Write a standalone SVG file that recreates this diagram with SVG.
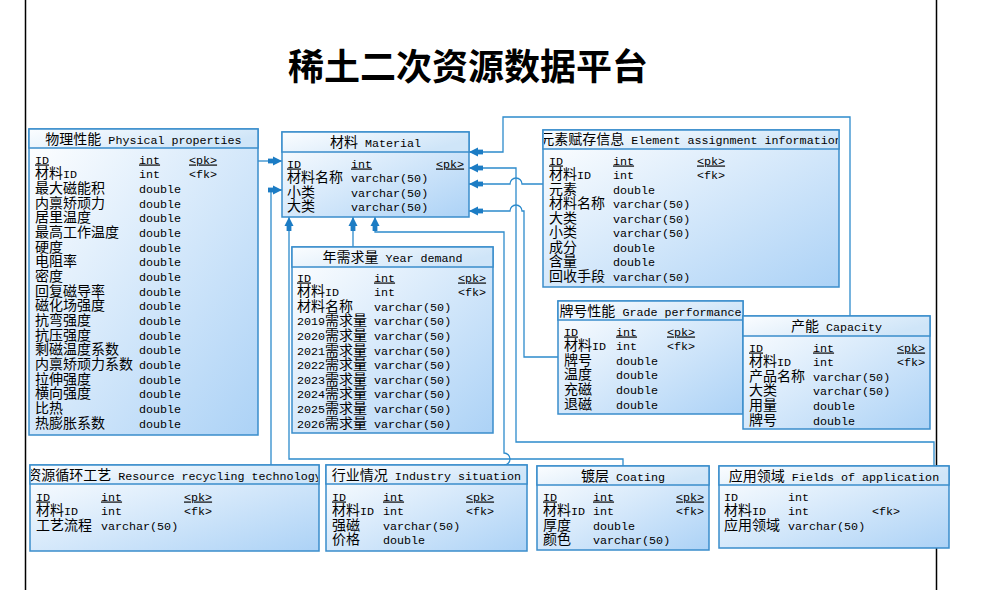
<svg xmlns="http://www.w3.org/2000/svg" width="981" height="590" viewBox="0 0 981 590">
<style>
.bg{fill:#ffffff}
.page{stroke:#000;stroke-width:1.5;fill:none}
.title{font-family:"Noto Sans CJK SC","Liberation Sans",sans-serif;font-size:36px;font-weight:bold;fill:#000}
.box{fill:url(#gb);stroke:#3a8dcb;stroke-width:1.5}
.hd{fill:url(#gh);stroke:#3a8dcb;stroke-width:1.5}
.t{font-family:"Liberation Mono","Noto Sans CJK SC",monospace;font-size:11.7px;fill:#000}
.c{font-family:"Noto Sans CJK SC",sans-serif;font-size:14px}
.u{text-decoration:underline}
.m{text-anchor:middle}
.cn{fill:none;stroke:#2d8bcc;stroke-width:1.3}
</style>
<defs>
<linearGradient id="gb" x1="0" y1="0" x2="1" y2="1">
<stop offset="0" stop-color="#ffffff"/>
<stop offset="1" stop-color="#acd2f6"/>
</linearGradient>
<linearGradient id="gh" x1="0" y1="0" x2="1" y2="0.4">
<stop offset="0" stop-color="#fbfdff"/>
<stop offset="1" stop-color="#cfe5f8"/>
</linearGradient>
<marker id="ar" markerUnits="userSpaceOnUse" markerWidth="20" markerHeight="12" refX="16" refY="6" orient="auto" viewBox="0 0 20 12">
<polygon points="16,6 7,1.5 7,10.5" fill="#1c7cc4"/>
<rect x="2" y="3.6" width="6" height="4.8" fill="#1c7cc4"/>
</marker>
<clipPath id="clipEl"><rect x="544" y="131" width="294" height="18"/></clipPath>
<clipPath id="clipRes"><rect x="31" y="466" width="287" height="18"/></clipPath>
</defs>
<rect class="bg" x="0" y="0" width="981" height="590"/>
<line class="page" x1="25.5" y1="0" x2="25.5" y2="590"/>
<line class="page" x1="936.5" y1="0" x2="936.5" y2="590"/>
<text class="title m" x="468" y="80">稀土二次资源数据平台</text>

<g id="connectors">
<path class="cn" d="M258,161 H282" marker-end="url(#ar)"/>
<path class="cn" d="M271,465 V190 H282" marker-end="url(#ar)"/>
<path class="cn" d="M623,466 V459 H289 V217" marker-end="url(#ar)"/>
<path class="cn" d="M353,247 V217" marker-end="url(#ar)"/>
<path class="cn" d="M504,465 A6,6 0 0 0 504,453 V232 H375 V217" marker-end="url(#ar)"/>
<path class="cn" d="M850,316 V117 H503 V152 H469" marker-end="url(#ar)"/>
<path class="cn" d="M934,466 V442 H516 V168 H469" marker-end="url(#ar)"/>
<path class="cn" d="M543,184 H522 A6,6 0 0 0 510,184 H469" marker-end="url(#ar)"/>
<path class="cn" d="M558,357 H524 V211 H522 A6,6 0 0 0 510,211 H469" marker-end="url(#ar)"/>
</g>

<g id="physical">
<rect class="box" x="29" y="129" width="229" height="306"/>
<rect class="hd" x="29" y="129" width="229" height="19"/>
<text class="t m" x="143.5" y="143.5"><tspan class="c">物理性能</tspan> Physical properties</text>
<text class="t u" x="35" y="163.5">ID</text><text class="t u" x="139" y="163.5">int</text><text class="t u" x="189" y="163.5">&lt;pk&gt;</text>
<text class="t" x="35" y="178.2"><tspan class="c">材料</tspan>ID</text><text class="t" x="139" y="178.2">int</text><text class="t" x="189" y="178.2">&lt;fk&gt;</text>
<text class="t" x="35" y="192.8"><tspan class="c">最大磁能积</tspan></text><text class="t" x="139" y="192.8">double</text>
<text class="t" x="35" y="207.5"><tspan class="c">内禀矫顽力</tspan></text><text class="t" x="139" y="207.5">double</text>
<text class="t" x="35" y="222.2"><tspan class="c">居里温度</tspan></text><text class="t" x="139" y="222.2">double</text>
<text class="t" x="35" y="236.8"><tspan class="c">最高工作温度</tspan></text><text class="t" x="139" y="236.8">double</text>
<text class="t" x="35" y="251.5"><tspan class="c">硬度</tspan></text><text class="t" x="139" y="251.5">double</text>
<text class="t" x="35" y="266.2"><tspan class="c">电阻率</tspan></text><text class="t" x="139" y="266.2">double</text>
<text class="t" x="35" y="280.9"><tspan class="c">密度</tspan></text><text class="t" x="139" y="280.9">double</text>
<text class="t" x="35" y="295.5"><tspan class="c">回复磁导率</tspan></text><text class="t" x="139" y="295.5">double</text>
<text class="t" x="35" y="310.2"><tspan class="c">磁化场强度</tspan></text><text class="t" x="139" y="310.2">double</text>
<text class="t" x="35" y="324.9"><tspan class="c">抗弯强度</tspan></text><text class="t" x="139" y="324.9">double</text>
<text class="t" x="35" y="339.5"><tspan class="c">抗压强度</tspan></text><text class="t" x="139" y="339.5">double</text>
<text class="t" x="35" y="354.2"><tspan class="c">剩磁温度系数</tspan></text><text class="t" x="139" y="354.2">double</text>
<text class="t" x="35" y="368.9"><tspan class="c">内禀矫顽力系数</tspan></text><text class="t" x="139" y="368.9">double</text>
<text class="t" x="35" y="383.5"><tspan class="c">拉伸强度</tspan></text><text class="t" x="139" y="383.5">double</text>
<text class="t" x="35" y="398.2"><tspan class="c">横向强度</tspan></text><text class="t" x="139" y="398.2">double</text>
<text class="t" x="35" y="412.9"><tspan class="c">比热</tspan></text><text class="t" x="139" y="412.9">double</text>
<text class="t" x="35" y="427.5"><tspan class="c">热膨胀系数</tspan></text><text class="t" x="139" y="427.5">double</text>
</g>

<g id="material">
<rect class="box" x="282" y="132" width="187" height="85"/>
<rect class="hd" x="282" y="132" width="187" height="20"/>
<text class="t m" x="375.5" y="146.5"><tspan class="c">材料</tspan> Material</text>
<text class="t u" x="287" y="167.5">ID</text><text class="t u" x="351" y="167.5">int</text><text class="t u" x="436" y="167.5">&lt;pk&gt;</text>
<text class="t" x="287" y="182"><tspan class="c">材料名称</tspan></text><text class="t" x="351" y="182">varchar(50)</text>
<text class="t" x="287" y="196.5"><tspan class="c">小类</tspan></text><text class="t" x="351" y="196.5">varchar(50)</text>
<text class="t" x="287" y="211"><tspan class="c">大类</tspan></text><text class="t" x="351" y="211">varchar(50)</text>
</g>

<g id="year-demand">
<rect class="box" x="292" y="247" width="201" height="186"/>
<rect class="hd" x="292" y="247" width="201" height="20"/>
<text class="t m" x="392.5" y="261.5"><tspan class="c">年需求量</tspan> Year demand</text>
<text class="t u" x="297" y="281.5">ID</text><text class="t u" x="374" y="281.5">int</text><text class="t u" x="458" y="281.5">&lt;pk&gt;</text>
<text class="t" x="297" y="296.1"><tspan class="c">材料</tspan>ID</text><text class="t" x="374" y="296.1">int</text><text class="t" x="458" y="296.1">&lt;fk&gt;</text>
<text class="t" x="297" y="310.7"><tspan class="c">材料名称</tspan></text><text class="t" x="374" y="310.7">varchar(50)</text>
<text class="t" x="297" y="325.3">2019<tspan class="c">需求量</tspan></text><text class="t" x="374" y="325.3">varchar(50)</text>
<text class="t" x="297" y="339.9">2020<tspan class="c">需求量</tspan></text><text class="t" x="374" y="339.9">varchar(50)</text>
<text class="t" x="297" y="354.5">2021<tspan class="c">需求量</tspan></text><text class="t" x="374" y="354.5">varchar(50)</text>
<text class="t" x="297" y="369.1">2022<tspan class="c">需求量</tspan></text><text class="t" x="374" y="369.1">varchar(50)</text>
<text class="t" x="297" y="383.7">2023<tspan class="c">需求量</tspan></text><text class="t" x="374" y="383.7">varchar(50)</text>
<text class="t" x="297" y="398.3">2024<tspan class="c">需求量</tspan></text><text class="t" x="374" y="398.3">varchar(50)</text>
<text class="t" x="297" y="412.9">2025<tspan class="c">需求量</tspan></text><text class="t" x="374" y="412.9">varchar(50)</text>
<text class="t" x="297" y="427.5">2026<tspan class="c">需求量</tspan></text><text class="t" x="374" y="427.5">varchar(50)</text>
</g>

<g id="element">
<rect class="box" x="543" y="130" width="296" height="157"/>
<rect class="hd" x="543" y="130" width="296" height="19"/>
<text class="t m" x="691" y="144" clip-path="url(#clipEl)"><tspan class="c">元素赋存信息</tspan> Element assignment information</text>
<text class="t u" x="549" y="164.5">ID</text><text class="t u" x="613" y="164.5">int</text><text class="t u" x="697" y="164.5">&lt;pk&gt;</text>
<text class="t" x="549" y="179"><tspan class="c">材料</tspan>ID</text><text class="t" x="613" y="179">int</text><text class="t" x="697" y="179">&lt;fk&gt;</text>
<text class="t" x="549" y="193.5"><tspan class="c">元素</tspan></text><text class="t" x="613" y="193.5">double</text>
<text class="t" x="549" y="208"><tspan class="c">材料名称</tspan></text><text class="t" x="613" y="208">varchar(50)</text>
<text class="t" x="549" y="222.5"><tspan class="c">大类</tspan></text><text class="t" x="613" y="222.5">varchar(50)</text>
<text class="t" x="549" y="237"><tspan class="c">小类</tspan></text><text class="t" x="613" y="237">varchar(50)</text>
<text class="t" x="549" y="251.5"><tspan class="c">成分</tspan></text><text class="t" x="613" y="251.5">double</text>
<text class="t" x="549" y="266"><tspan class="c">含量</tspan></text><text class="t" x="613" y="266">double</text>
<text class="t" x="549" y="280.5"><tspan class="c">回收手段</tspan></text><text class="t" x="613" y="280.5">varchar(50)</text>
</g>

<g id="grade">
<rect class="box" x="558" y="301" width="185" height="113"/>
<rect class="hd" x="558" y="301" width="185" height="19"/>
<text class="t m" x="650.5" y="315.5"><tspan class="c">牌号性能</tspan> Grade performance</text>
<text class="t u" x="564" y="335.5">ID</text><text class="t u" x="616" y="335.5">int</text><text class="t u" x="667" y="335.5">&lt;pk&gt;</text>
<text class="t" x="564" y="350.1"><tspan class="c">材料</tspan>ID</text><text class="t" x="616" y="350.1">int</text><text class="t" x="667" y="350.1">&lt;fk&gt;</text>
<text class="t" x="564" y="364.7"><tspan class="c">牌号</tspan></text><text class="t" x="616" y="364.7">double</text>
<text class="t" x="564" y="379.3"><tspan class="c">温度</tspan></text><text class="t" x="616" y="379.3">double</text>
<text class="t" x="564" y="393.9"><tspan class="c">充磁</tspan></text><text class="t" x="616" y="393.9">double</text>
<text class="t" x="564" y="408.5"><tspan class="c">退磁</tspan></text><text class="t" x="616" y="408.5">double</text>
</g>

<g id="capacity">
<rect class="box" x="743" y="316" width="187" height="113"/>
<rect class="hd" x="743" y="316" width="187" height="20"/>
<text class="t m" x="836.5" y="330.5"><tspan class="c">产能</tspan> Capacity</text>
<text class="t u" x="749" y="351.5">ID</text><text class="t u" x="813" y="351.5">int</text><text class="t u" x="897" y="351.5">&lt;pk&gt;</text>
<text class="t" x="749" y="366.1"><tspan class="c">材料</tspan>ID</text><text class="t" x="813" y="366.1">int</text><text class="t" x="897" y="366.1">&lt;fk&gt;</text>
<text class="t" x="749" y="380.7"><tspan class="c">产品名称</tspan></text><text class="t" x="813" y="380.7">varchar(50)</text>
<text class="t" x="749" y="395.3"><tspan class="c">大类</tspan></text><text class="t" x="813" y="395.3">varchar(50)</text>
<text class="t" x="749" y="409.9"><tspan class="c">用量</tspan></text><text class="t" x="813" y="409.9">double</text>
<text class="t" x="749" y="424.5"><tspan class="c">牌号</tspan></text><text class="t" x="813" y="424.5">double</text>
</g>

<g id="resource-recycling">
<rect class="box" x="30" y="465" width="289" height="86"/>
<rect class="hd" x="30" y="465" width="289" height="19"/>
<text class="t m" x="174.5" y="480" clip-path="url(#clipRes)"><tspan class="c">资源循环工艺</tspan> Resource recycling technology</text>
<text class="t u" x="36" y="500.5">ID</text><text class="t u" x="101" y="500.5">int</text><text class="t u" x="184" y="500.5">&lt;pk&gt;</text>
<text class="t" x="36" y="515"><tspan class="c">材料</tspan>ID</text><text class="t" x="101" y="515">int</text><text class="t" x="184" y="515">&lt;fk&gt;</text>
<text class="t" x="36" y="529.5"><tspan class="c">工艺流程</tspan></text><text class="t" x="101" y="529.5">varchar(50)</text>
</g>

<g id="industry">
<rect class="box" x="326" y="465" width="201" height="86"/>
<rect class="hd" x="326" y="465" width="201" height="19"/>
<text class="t m" x="426.5" y="480"><tspan class="c">行业情况</tspan> Industry situation</text>
<text class="t u" x="332" y="500.5">ID</text><text class="t u" x="383" y="500.5">int</text><text class="t u" x="466" y="500.5">&lt;pk&gt;</text>
<text class="t" x="332" y="515"><tspan class="c">材料</tspan>ID</text><text class="t" x="383" y="515">int</text><text class="t" x="466" y="515">&lt;fk&gt;</text>
<text class="t" x="332" y="529.5"><tspan class="c">强磁</tspan></text><text class="t" x="383" y="529.5">varchar(50)</text>
<text class="t" x="332" y="544"><tspan class="c">价格</tspan></text><text class="t" x="383" y="544">double</text>
</g>

<g id="coating">
<rect class="box" x="537" y="466" width="172" height="84"/>
<rect class="hd" x="537" y="466" width="172" height="19"/>
<text class="t m" x="623" y="480.5"><tspan class="c">镀层</tspan> Coating</text>
<text class="t u" x="543" y="500.5">ID</text><text class="t u" x="593" y="500.5">int</text><text class="t u" x="676" y="500.5">&lt;pk&gt;</text>
<text class="t" x="543" y="515"><tspan class="c">材料</tspan>ID</text><text class="t" x="593" y="515">int</text><text class="t" x="676" y="515">&lt;fk&gt;</text>
<text class="t" x="543" y="529.5"><tspan class="c">厚度</tspan></text><text class="t" x="593" y="529.5">double</text>
<text class="t" x="543" y="544"><tspan class="c">颜色</tspan></text><text class="t" x="593" y="544">varchar(50)</text>
</g>

<g id="fields">
<rect class="box" x="719" y="466" width="230" height="82"/>
<rect class="hd" x="719" y="466" width="230" height="19"/>
<text class="t m" x="834" y="480.5"><tspan class="c">应用领域</tspan> Fields of application</text>
<text class="t" x="724" y="500.5">ID</text><text class="t" x="788" y="500.5">int</text>
<text class="t" x="724" y="515"><tspan class="c">材料</tspan>ID</text><text class="t" x="788" y="515">int</text><text class="t" x="872" y="515">&lt;fk&gt;</text>
<text class="t" x="724" y="529.5"><tspan class="c">应用领域</tspan></text><text class="t" x="788" y="529.5">varchar(50)</text>
</g>
</svg>
